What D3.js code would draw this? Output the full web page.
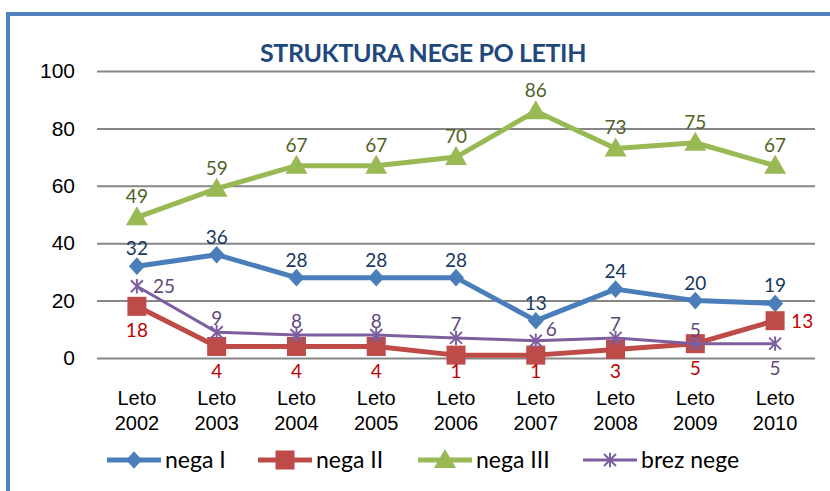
<!DOCTYPE html>
<html>
<head>
<meta charset="utf-8">
<script src="https://cdn.jsdelivr.net/npm/d3@7"></script>
<style>
  body { margin: 0; background: #fff; }
  svg { display: block; font-family: Lato, "Open Sans", sans-serif; }
</style>
</head>
<body>
<div id="chart"></div>
<script>
// data
const years = ['2002', '2003', '2004', '2005', '2006', '2007', '2008', '2009', '2010'];
const negaI = [32, 36, 28, 28, 28, 13, 24, 20, 19];
const negaII = [18, 4, 4, 4, 1, 1, 3, 5, 13];
const negaIII = [49, 59, 67, 67, 70, 86, 73, 75, 67];
const brezNege = [25, 9, 8, 8, 7, 6, 7, 5, 5];
const yTicks = [0, 20, 40, 60, 80, 100];

// label placement per point: a = above, b = below, r = right, ru = right and up
const posI = ['a', 'a', 'a', 'a', 'a', 'a', 'a', 'a', 'a'];
const posII = ['b', 'b', 'b', 'b', 'b', 'b', 'b', 'b', 'r'];
const posIII = ['a', 'a', 'a', 'a', 'a', 'a', 'a', 'a', 'a'];
const posBrez = ['r', 'a', 'a', 'a', 'a', 'ru', 'a', 'a', 'b'];

const series = [
  {name: 'nega I', values: negaI, pos: posI, color: '#4A7EBB', label: '#17375E', width: 5, marker: 'diamond', up: 11, down: 30},
  {name: 'nega II', values: negaII, pos: posII, color: '#BE4B48', label: '#C00000', width: 5, marker: 'square', up: 12, down: 31},
  {name: 'nega III', values: negaIII, pos: posIII, color: '#98B954', label: '#4F6228', width: 5, marker: 'triangle', up: 14, down: 30},
  {name: 'brez nege', values: brezNege, pos: posBrez, color: '#7D5FA0', label: '#5F497A', width: 3, marker: 'star', up: 7, down: 31},
];

const W = 830, H = 491;
const svg = d3.select('#chart').append('svg').attr('width', W).attr('height', H);

// outer frame
svg.append('rect')
  .attr('x', 8).attr('y', 14).attr('width', 840).attr('height', 500)
  .attr('fill', 'none').attr('stroke', '#4F81BD').attr('stroke-width', 4);

const x = d3.scaleBand().domain(years).range([97, 815]);
const cx = d => x(d) + x.bandwidth() / 2;
const y = d3.scaleLinear().domain([0, 100]).range([358, 71]);

// title
svg.append('text')
  .attr('x', 423).attr('y', 62)
  .attr('text-anchor', 'middle')
  .attr('font-size', 25).attr('font-weight', 'bold')
  .attr('letter-spacing', -0.4)
  .attr('fill', '#1F497D')
  .text('STRUKTURA NEGE PO LETIH');

// y axis with gridlines
const yAxis = svg.append('g')
  .attr('transform', 'translate(97,0)')
  .call(d3.axisLeft(y).tickValues(yTicks).tickSize(-(815 - 97)).tickPadding(22));
yAxis.select('.domain').remove();
yAxis.selectAll('line').attr('stroke', '#868686').attr('stroke-width', 2);
yAxis.selectAll('text').attr('font-size', 21).attr('fill', '#000');

// x axis labels
const xAxis = svg.append('g')
  .attr('transform', 'translate(0,358)')
  .call(d3.axisBottom(x).tickSize(0).tickFormat(''));
xAxis.select('.domain').remove();
xAxis.selectAll('.tick').each(function(d) {
  const t = d3.select(this).append('text')
    .attr('text-anchor', 'middle').attr('font-size', 20).attr('fill', '#000');
  t.append('tspan').attr('x', 0).attr('y', 47).text('Leto');
  t.append('tspan').attr('x', 0).attr('y', 72).text(d);
});

function markerPath(type, s) {
  if (type === 'diamond') return `M0,${-s * 1.1}L${s},0L0,${s * 1.1}L${-s},0Z`;
  if (type === 'square') return `M${-s},${-s}H${s}V${s}H${-s}Z`;
  if (type === 'triangle') return `M0,${-s * 1.1}L${s * 1.1},${s * 0.8}L${-s * 1.1},${s * 0.8}Z`;
  // asterisk: X plus vertical stroke
  return `M${-s},${-s}L${s},${s}M${-s},${s}L${s},${-s}M0,${-s * 1.2}V${s * 1.2}`;
}
const markerSize = {diamond: 8, square: 9.5, triangle: 10, star: 6};

function drawMarker(g, s, px, py) {
  const p = g.append('path')
    .attr('transform', `translate(${px},${py})`)
    .attr('d', markerPath(s.marker, markerSize[s.marker]));
  if (s.marker === 'star') {
    p.attr('fill', 'none').attr('stroke', s.color).attr('stroke-width', 2);
  } else {
    p.attr('fill', s.color).attr('stroke', 'none');
  }
}

const line = d3.line().x((d, i) => cx(years[i])).y(d => y(d));

series.forEach(s => {
  const g = svg.append('g');
  g.append('path')
    .datum(s.values)
    .attr('d', line)
    .attr('fill', 'none')
    .attr('stroke', s.color)
    .attr('stroke-width', s.width)
    .attr('stroke-linejoin', 'round');
  s.values.forEach((v, i) => drawMarker(g, s, cx(years[i]), y(v)));
});

// data labels on top
series.forEach(s => {
  const g = svg.append('g').attr('font-size', 19).attr('fill', s.label);
  s.values.forEach((v, i) => {
    const px = cx(years[i]), py = y(v);
    const t = g.append('text').text(v);
    const p = s.pos[i];
    if (p === 'a') {
      t.attr('x', px).attr('y', py - s.up).attr('text-anchor', 'middle');
    } else if (p === 'b') {
      // labels are kept inside the plot area
      t.attr('x', px).attr('y', Math.min(py + s.down, 378)).attr('text-anchor', 'middle');
    } else if (p === 'r') {
      t.attr('x', px + 16).attr('y', py + 7).attr('text-anchor', 'start');
    } else {
      t.attr('x', px + 10).attr('y', py - 5).attr('text-anchor', 'start');
    }
  });
});

// legend
const legendX = [107, 258, 418, 583];
series.forEach((s, i) => {
  const g = svg.append('g').attr('transform', `translate(${legendX[i]},460)`);
  g.append('line')
    .attr('x1', 0).attr('x2', 54).attr('y1', 0).attr('y2', 0)
    .attr('stroke', s.color).attr('stroke-width', s.width);
  drawMarker(g, s, 27, 0);
  g.append('text')
    .attr('x', 58).attr('y', 8)
    .attr('font-size', 23).attr('fill', '#000')
    .text(s.name);
});
</script>
</body>
</html>
